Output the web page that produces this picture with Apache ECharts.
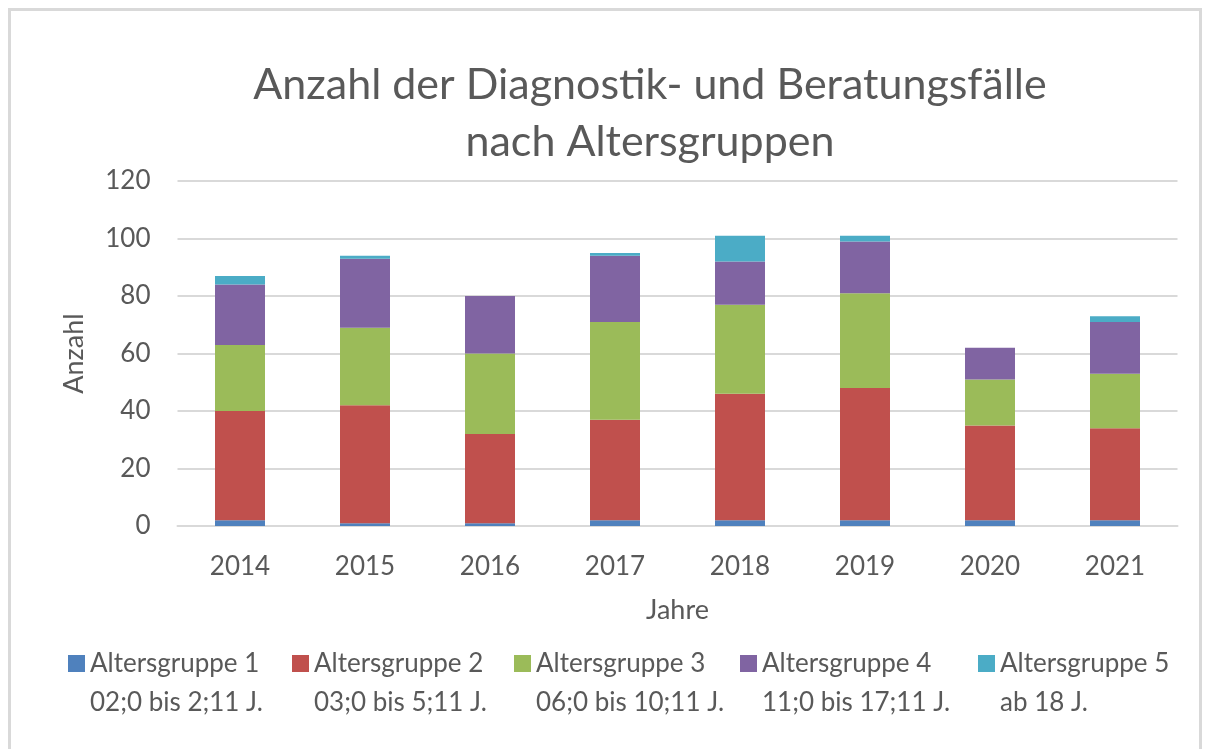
<!DOCTYPE html>
<html>
<head>
<meta charset="utf-8">
<title>Anzahl der Diagnostik- und Beratungsfälle</title>
<script src="https://cdn.jsdelivr.net/npm/echarts@6/dist/echarts.min.js"></script>
<style>
  html, body { margin: 0; padding: 0; background: #ffffff; }
  #chart { position: absolute; left: 0; top: 0; width: 1208px; height: 749px; }
  #frame { position: absolute; left: 8px; top: 8px; width: 1194px; height: 746px;
           border: 3px solid #d9d9d9; box-sizing: border-box; pointer-events: none; }
</style>
</head>
<body>
<div id="chart"></div>
<div id="frame"></div>
<script>
// Jahre (Kategorien)
const years = ['2014', '2015', '2016', '2017', '2018', '2019', '2020', '2021'];

// Fälle je Altersgruppe und Jahr
const gruppe1 = [2, 1, 1, 2, 2, 2, 2, 2];
const gruppe2 = [38, 41, 31, 35, 44, 46, 33, 32];
const gruppe3 = [23, 27, 28, 34, 31, 33, 16, 19];
const gruppe4 = [21, 24, 20, 23, 15, 18, 11, 18];
const gruppe5 = [3, 1, 0, 1, 9, 2, 0, 2];

// Legendentexte: Name und Altersbereich
const groupNames = ['Altersgruppe 1', 'Altersgruppe 2', 'Altersgruppe 3', 'Altersgruppe 4', 'Altersgruppe 5'];
const groupRanges = ['02;0 bis 2;11 J.', '03;0 bis 5;11 J.', '06;0 bis 10;11 J.', '11;0 bis 17;11 J.', 'ab 18 J.'];
const groupColors = ['#4F81BD', '#C0504D', '#9BBB59', '#8064A2', '#4BACC6'];

const values = [gruppe1, gruppe2, gruppe3, gruppe4, gruppe5];

const FONT = 'Lato, "Liberation Sans", sans-serif';
const TEXT = '#595959';

// feste Breite je Legendeneintrag, damit die Einträge gleichmäßig verteilt sind
const legendTextWidths = [192, 190, 194, 206, 180];

const chart = echarts.init(document.getElementById('chart'), null, { renderer: 'canvas' });

chart.setOption({
  animation: false,
  backgroundColor: '#ffffff',
  title: {
    text: 'Anzahl der Diagnostik- und Beratungsfälle\nnach Altersgruppen',
    left: 645,
    textAlign: 'center',
    top: 52,
    textStyle: {
      fontFamily: FONT,
      fontWeight: 'normal',
      fontSize: 43,
      lineHeight: 57,
      color: TEXT
    }
  },
  grid: {
    left: 177.5,
    right: 30.5,
    top: 181,
    bottom: 223,
    containLabel: false
  },
  legend: {
    left: 63,
    top: 600,
    orient: 'horizontal',
    itemGap: 10,
    itemWidth: 17,
    itemHeight: 17,
    icon: 'rect',
    selectedMode: false,
    data: groupNames.map((n, i) => ({
      name: n,
      textStyle: { width: legendTextWidths[i] }
    })),
    formatter: function (name) {
      const i = groupNames.indexOf(name);
      return ' \n' + name + '\n' + groupRanges[i];
    },
    textStyle: {
      fontFamily: FONT,
      fontSize: 26,
      lineHeight: 39,
      color: TEXT
    }
  },
  xAxis: {
    type: 'category',
    data: years,
    name: 'Jahre',
    nameLocation: 'middle',
    nameGap: 71,
    nameTextStyle: { fontFamily: FONT, fontSize: 27, color: TEXT },
    axisLine: { show: true, lineStyle: { color: '#d9d9d9', width: 2 } },
    axisTick: { show: false },
    axisLabel: { margin: 28, fontFamily: FONT, fontSize: 26, color: TEXT }
  },
  yAxis: {
    type: 'value',
    min: 0,
    max: 120,
    interval: 20,
    name: 'Anzahl',
    nameLocation: 'middle',
    nameGap: 90,
    nameRotate: 90,
    nameTextStyle: { fontFamily: FONT, fontSize: 27, color: TEXT },
    axisLine: { show: false },
    axisTick: { show: false },
    axisLabel: { margin: 27, fontFamily: FONT, fontSize: 26, color: TEXT },
    splitLine: { show: true, lineStyle: { color: '#d9d9d9', width: 2 } }
  },
  series: values.map((v, i) => ({
    name: groupNames[i],
    type: 'bar',
    stack: 'faelle',
    data: v,
    barWidth: 50,
    itemStyle: { color: groupColors[i] }
  }))
});
</script>
</body>
</html>
